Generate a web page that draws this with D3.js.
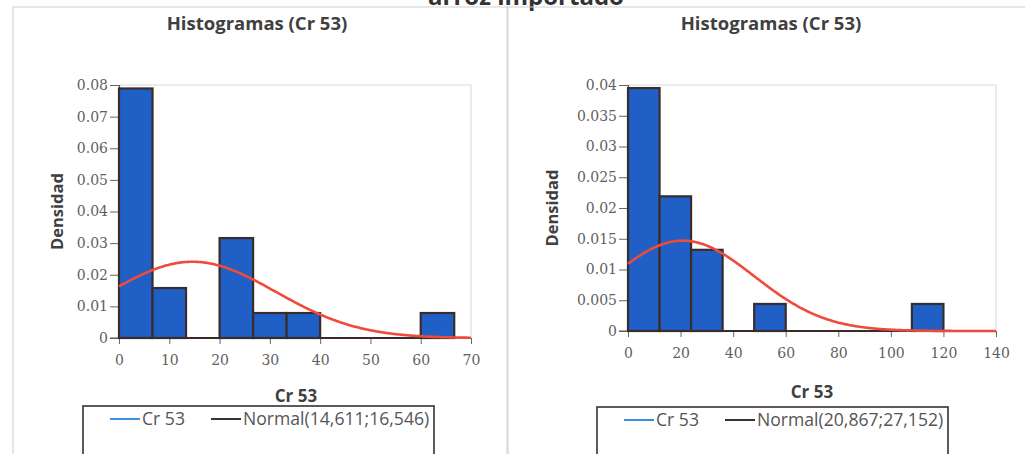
<!DOCTYPE html>
<html>
<head>
<meta charset="utf-8">
<script src="https://cdn.jsdelivr.net/npm/d3@7"></script>
<style>
  html, body { margin: 0; padding: 0; background: #ffffff; }
  svg { display: block; }
</style>
</head>
<body>
<svg id="chart" width="1025" height="454"></svg>
<script>
// Histogram bins (left edge, right edge) and densities for each panel
const leftBinEdges = [0, 6.667, 13.333, 20, 26.667, 33.333, 40, 46.667, 53.333, 60, 66.667];
const leftDensity = [0.0789, 0.0158, 0, 0.0316, 0.0079, 0.0079, 0, 0, 0, 0.0079];
const leftNormal = { mean: 14.611, sd: 16.546 };
const leftXTicks = [0, 10, 20, 30, 40, 50, 60, 70];
const leftYTicks = [0, 0.01, 0.02, 0.03, 0.04, 0.05, 0.06, 0.07, 0.08];

const rightBinEdges = [0, 12, 24, 36, 48, 60, 72, 84, 96, 108, 120];
const rightDensity = [0.0395, 0.0219, 0.0132, 0, 0.0044, 0, 0, 0, 0, 0.0044];
const rightNormal = { mean: 20.867, sd: 27.152 };
const rightXTicks = [0, 20, 40, 60, 80, 100, 120, 140];
const rightYTicks = [0, 0.005, 0.01, 0.015, 0.02, 0.025, 0.03, 0.035, 0.04];

const chartTitle = "Histogramas (Cr 53)";
const xTitle = "Cr 53";
const yTitle = "Densidad";
const seriesName = "Cr 53";
const leftNormalLabel = "Normal(14,611;16,546)";
const rightNormalLabel = "Normal(20,867;27,152)";

const svg = d3.select("#chart");
const sans = "'Open Sans', 'Noto Sans', sans-serif";
const serif = "'DejaVu Serif', 'Liberation Serif', serif";
const barFill = "#1f5fc6";
const barStroke = "#3b2c2c";
const curveColor = "#f04a3a";

// Page heading, mostly cut off at the top edge
svg.append("text")
  .attr("x", 526).attr("y", 5)
  .attr("text-anchor", "middle")
  .attr("font-family", sans).attr("font-weight", 700)
  .attr("font-size", 24).attr("fill", "#333")
  .text("arroz importado");

function normalPdf(x, m, s) {
  return Math.exp(-0.5 * ((x - m) / s) ** 2) / (s * Math.sqrt(2 * Math.PI));
}

function panel(cfg) {
  const g = svg.append("g");

  // Outer chart frame
  g.append("rect")
    .attr("x", cfg.frame[0]).attr("y", cfg.frame[1])
    .attr("width", cfg.frame[2]).attr("height", cfg.frame[3])
    .attr("fill", "none").attr("stroke", "#cfcfcf").attr("stroke-width", 1);

  const x = d3.scaleLinear().domain(cfg.xDomain).range([cfg.px0, cfg.px1]);
  const y = d3.scaleLinear().domain(cfg.yDomain).range([cfg.py0, cfg.py1]);

  // Plot area border (top and right)
  g.append("path")
    .attr("d", `M${cfg.px0},${cfg.py1}H${cfg.px1}V${cfg.py0}`)
    .attr("fill", "none").attr("stroke", "#d4d8dc").attr("stroke-width", 1);

  // Title
  g.append("text")
    .attr("x", cfg.titleX).attr("y", 30)
    .attr("text-anchor", "middle")
    .attr("font-family", sans).attr("font-weight", 700)
    .attr("font-size", 18.5).attr("fill", "#404040")
    .text(chartTitle);

  // Y axis
  const yAxis = d3.axisLeft(y).tickValues(cfg.yTicks).tickSize(9).tickPadding(2)
    .tickFormat(d => d === 0 ? "0" : String(+d.toFixed(3)));
  const ya = g.append("g").attr("transform", `translate(${cfg.px0},0)`).call(yAxis);
  ya.select(".domain").attr("stroke", "#555").attr("stroke-width", 1.2);
  ya.selectAll(".tick line").attr("stroke", "#666");
  ya.selectAll("text").attr("font-family", serif).attr("font-size", 14).attr("fill", "#5f5f5f");

  // X axis
  const xAxis = d3.axisBottom(x).tickValues(cfg.xTicks).tickSize(6).tickPadding(11).tickSizeOuter(0);
  const xa = g.append("g").attr("transform", `translate(0,${cfg.py0})`).call(xAxis);
  xa.select(".domain").attr("stroke", "#555").attr("stroke-width", 1.2)
    .attr("d", `M${cfg.px0 - 9},0H${cfg.px1}`);
  xa.selectAll(".tick line").attr("stroke", "#666");
  xa.selectAll("text").attr("font-family", serif).attr("font-size", 14).attr("fill", "#5f5f5f");

  // Histogram bars
  const bins = cfg.density.map((d, i) => ({ x0: cfg.edges[i], x1: cfg.edges[i + 1], d }));
  g.append("g").selectAll("rect").data(bins.filter(b => b.d > 0)).join("rect")
    .attr("x", b => x(b.x0)).attr("y", b => y(b.d))
    .attr("width", b => x(b.x1) - x(b.x0)).attr("height", b => y(0) - y(b.d))
    .attr("fill", barFill).attr("stroke", barStroke).attr("stroke-width", 2.2);
  // Empty bins sit on the baseline
  g.append("line")
    .attr("x1", x(cfg.edges[0])).attr("x2", x(cfg.edges[cfg.edges.length - 1]))
    .attr("y1", y(0)).attr("y2", y(0))
    .attr("stroke", barStroke).attr("stroke-width", 2.2);

  // Fitted normal density
  const xs = d3.range(0, 401).map(i => cfg.xDomain[0] + (cfg.xDomain[1] - cfg.xDomain[0]) * i / 400);
  g.append("path")
    .datum(xs)
    .attr("d", d3.line().x(v => x(v)).y(v => y(normalPdf(v, cfg.normal.mean, cfg.normal.sd))))
    .attr("fill", "none").attr("stroke", curveColor).attr("stroke-width", 2.6);

  // Axis titles
  g.append("text")
    .attr("transform", `translate(${cfg.yTitleX},${(cfg.py0 + cfg.py1) / 2}) rotate(-90)`)
    .attr("text-anchor", "middle").attr("dy", "0.35em")
    .attr("font-family", sans).attr("font-weight", 700)
    .attr("font-size", 16.5).attr("fill", "#404040")
    .text(yTitle);

  // Legend box
  g.append("rect")
    .attr("x", cfg.legend[0]).attr("y", cfg.legend[1])
    .attr("width", cfg.legend[2]).attr("height", 80)
    .attr("fill", "#fff").attr("stroke", "#3a3030").attr("stroke-width", 1.6);

  g.append("text")
    .attr("x", cfg.xTitlePos[0]).attr("y", cfg.xTitlePos[1])
    .attr("text-anchor", "middle").attr("dy", "0.35em")
    .attr("font-family", sans).attr("font-weight", 700)
    .attr("font-size", 17).attr("fill", "#404040")
    .text(xTitle);

  const ly = cfg.legend[1] + 13;
  const items = [
    { label: seriesName, color: "#3d8ee0", x: cfg.legend[0] + 27 },
    { label: cfg.normalLabel, color: "#3a3030", x: cfg.legend[0] + 128 }
  ];
  items.forEach(it => {
    g.append("line")
      .attr("x1", it.x).attr("x2", it.x + 30).attr("y1", ly).attr("y2", ly)
      .attr("stroke", it.color).attr("stroke-width", 2);
    g.append("text")
      .attr("x", it.x + 32).attr("y", ly).attr("dy", "0.35em")
      .attr("font-family", sans).attr("font-size", 17.6).attr("fill", "#555")
      .text(it.label);
  });
}

panel({
  frame: [13, 7, 495, 460],
  xDomain: [0, 70], yDomain: [0, 0.08],
  px0: 119, px1: 471, py0: 338, py1: 85,
  edges: leftBinEdges, density: leftDensity, normal: leftNormal,
  xTicks: leftXTicks, yTicks: leftYTicks,
  titleX: 257, yTitleX: 57,
  legend: [83, 406, 351], xTitlePos: [296, 396],
  normalLabel: leftNormalLabel
});

panel({
  frame: [507, 7, 530, 460],
  xDomain: [0, 140], yDomain: [0, 0.04],
  px0: 628, px1: 996, py0: 331, py1: 85,
  edges: rightBinEdges, density: rightDensity, normal: rightNormal,
  xTicks: rightXTicks, yTicks: rightYTicks,
  titleX: 771, yTitleX: 552,
  legend: [597, 407, 351], xTitlePos: [812, 392],
  normalLabel: rightNormalLabel
});
</script>
</body>
</html>
